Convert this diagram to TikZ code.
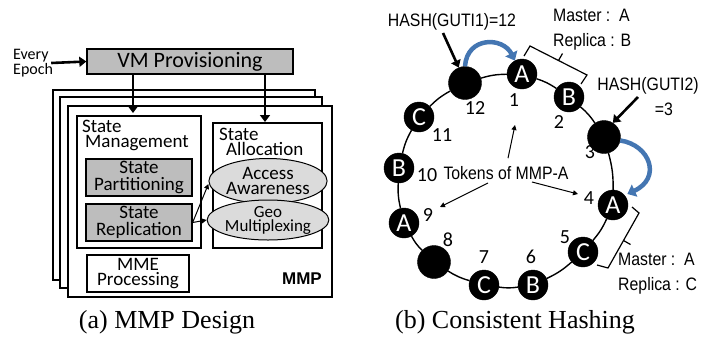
\documentclass[tikz,border=0pt]{standalone}
\usepackage{fontspec}
\newfontfamily\calib{Carlito}
\newfontfamily\narrowsans[FakeStretch=0.88]{Liberation Sans}
\newfontfamily\arialsans{Liberation Sans}
\newfontfamily\timesserif{Liberation Serif}
\usetikzlibrary{calc,arrows.meta,shapes.geometric}

\definecolor{boxgray}{gray}{0.74}
\definecolor{ovalgray}{gray}{0.86}
\definecolor{hashblue}{RGB}{68,118,178}

\tikzset{
  box/.style={draw,line width=1.3pt,inner sep=0pt},
  graybox/.style={box,fill=boxgray,minimum width=106pt,minimum height=37pt,align=center,
    font=\calib\fontsize{19}{17}\selectfont},
  oval/.style={ellipse,draw,line width=1pt,fill=ovalgray,inner sep=0pt,minimum width=101pt,align=center},
  boxlabel/.style={anchor=north west,inner sep=0pt,align=left,font=\calib\fontsize{19}{15}\selectfont},
  fatarrow/.style={line width=2.6pt,-{Triangle[length=7pt,width=10pt]}},
  thinarrow/.style={line width=1pt,-{Triangle[length=5pt,width=5pt]}},
  token/.style={circle,draw=black,fill=black,inner sep=0pt,minimum size=30pt,text=white,
    font=\calib\fontsize{26}{26}\selectfont},
  emptytoken/.style={token,minimum size=33pt},
  tokennum/.style={inner sep=0pt,font=\calib\fontsize{20}{20}\selectfont},
  hashtext/.style={inner sep=0pt,font=\narrowsans\fontsize{18}{25}\selectfont},
  bluearc/.style={draw=hashblue,line width=4.5pt,-{Triangle[length=8pt,width=13pt]}},
  bracket/.style={line width=1.2pt},
  ringline/.style={line width=1.4pt},
  caption/.style={inner sep=0pt,font=\timesserif\fontsize{26}{26}\selectfont}
}

\begin{document}
\begin{tikzpicture}[x=1pt,y=-1pt]
  \useasboundingbox (0,0) rectangle (721,341);

  % ===== (a) MMP design =====
  \node[anchor=west,inner sep=0pt,align=left,font=\calib\fontsize{16}{13}\selectfont] (epoch) at (13,63) {Every\\Epoch};
  \node[box,fill=boxgray,minimum width=206pt,minimum height=25pt,font=\calib\fontsize{22}{22}\selectfont]
    (vm) at (190,61.5) {VM Provisioning};
  \draw[fatarrow] (epoch.east) ++(-2,0) -- (vm.west);

  % stacked MMP instances
  \draw[box,fill=white] (53,90) rectangle (315,280);
  \draw[box,fill=white] (60,97) rectangle (322,288);
  \draw[box,fill=white] (68,106) rectangle (332,297);
  \node[inner sep=0pt,font=\arialsans\bfseries\fontsize{17}{17}\selectfont] (mmp) at (302,279) {MMP};

  % state management
  \node[box,minimum width=124pt,minimum height=132pt] (mgmt) at (139,182) {};
  \node[boxlabel] (mgmtlabel) at (82,120) {State\\\hspace*{3pt}Management};
  \node[graybox] (partition) at (139,177.5) {State\\Partitioning};
  \node[graybox] (replication) at (139,222.5) {State\\Replication};

  % state allocation
  \node[box,minimum width=109pt,minimum height=125pt] (alloc) at (267.5,185.5) {};
  \node[boxlabel] (alloclabel) at (219,128) {State\\\hspace*{7pt}Allocation};
  \node[oval,minimum height=45pt,font=\calib\fontsize{19}{15}\selectfont] (access) at (268,181) {Access\\Awareness};
  \node[oval,minimum height=40pt,font=\calib\fontsize{17}{14}\selectfont] (geo) at (268,220) {Geo\\Multiplexing};
  \draw[thinarrow] (replication.east) -- (access.west |- 0,184);
  \draw[thinarrow] (replication.east) -- (geo.west);

  \node[box,fill=white,minimum width=102pt,minimum height=37pt,align=center,
    font=\calib\fontsize{19}{14.5}\selectfont] (mme) at (138,273.5) {MME\\Processing};

  % provisioning arrows
  \coordinate (mgmtin) at (133,113);
  \coordinate (allocin) at (265,122);
  \draw[fatarrow] (vm.south -| mgmtin) -- (mgmtin);
  \draw[fatarrow] (vm.south -| allocin) -- (allocin);

  \node[caption] (capa) at (167,322) {(a) MMP Design};

  % ===== (b) consistent hashing =====
  \node[token] (t1) at (522,74) {A};
  \node[token] (t2) at (569,97) {B};
  \node[emptytoken] (t3) at (604,137) {};
  \node[token] (t4) at (613,205) {A};
  \node[token] (t5) at (583,252) {C};
  \node[token] (t6) at (533,285) {B};
  \node[token] (t7) at (484,285) {C};
  \node[emptytoken] (t8) at (434,262) {};
  \node[token] (t9) at (404,223) {A};
  \node[token] (t10) at (399,168) {B};
  \node[token] (t11) at (419,117) {C};
  \node[emptytoken] (t12) at (465,83) {};
  \foreach \a/\b in {t1/t2,t2/t3,t3/t4,t4/t5,t5/t6,t6/t7,t7/t8,t8/t9,t9/t10,t10/t11,t11/t12,t12/t1}
    \draw[ringline] (\a) to[bend left=8] (\b);

  % token numbers
  \node[tokennum] (n1) at (514,100) {1};
  \node[tokennum] (n2) at (559,122) {2};
  \node[tokennum] (n3) at (590,152) {3};
  \node[tokennum] (n4) at (589,198) {4};
  \node[tokennum] (n5) at (565,237) {5};
  \node[tokennum] (n6) at (531,257) {6};
  \node[tokennum] (n7) at (484,257) {7};
  \node[tokennum] (n8) at (448,240) {8};
  \node[tokennum] (n9) at (428,215) {9};
  \node[tokennum] (n10) at (427,175) {10};
  \node[tokennum] (n11) at (442,135) {11};
  \node[tokennum] (n12) at (475,108) {12};

  % hashes
  \node[hashtext] (hash1) at (452,22) {HASH(GUTI1)=12};
  \coordinate (hash1out) at (443,33);
  \draw[fatarrow] (hash1out) -- (t12.112);
  \draw[bluearc] (t12.north) .. controls +(2,-30) and +(-12,-24) .. (t1.118);

  \node[hashtext,anchor=west,align=left] (master1) at (553,29.5) {Master :\ \ A\\Replica : B};
  \draw[bracket] (524,56) -- (530,46) -- (587,75) -- (581,84);
  \draw[bracket] (558.5,60.5) -- ++(4,-7);

  \node[hashtext,align=center] (hash2) at (648,96.5) {HASH(GUTI2)\\\hspace*{32pt}=3};
  \coordinate (hash2out) at (638,97);
  \draw[fatarrow] (hash2out) -- (t3.58);
  \draw[bluearc,shorten >=3pt] (t3.-12) .. controls (650,145) and (662,178) .. (t4.40);

  \node[hashtext,anchor=west,align=left] (master2) at (618,273.5) {Master :\ \ A\\Replica : C};
  \draw[bracket] (632,207) -- (639,213) -- (608,268) -- (597,265);
  \draw[bracket] (623.5,240.5) -- ++(7,4);

  % tokens of MMP-A
  \node[hashtext] (tokens) at (506,173) {Tokens of MMP-A};
  \draw[thinarrow] ($(tokens.north)+(2,-8)$) -- (515,125);
  \draw[thinarrow] (488,183) -- (440,207);
  \draw[thinarrow] (532,182) -- (578,194);

  \node[caption] (capb) at (515,322) {(b) Consistent Hashing};
\end{tikzpicture}
\end{document}
